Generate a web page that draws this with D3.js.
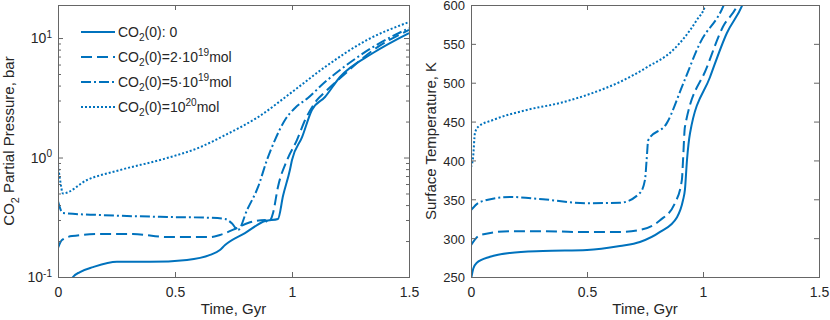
<html>
<head>
<title>CO2 pressure and surface temperature</title>
<script src="https://d3js.org/d3.v7.min.js"></script>
<style>
    body { margin: 0; background: #fff; }
    svg text { font-family: "Liberation Sans", Arial, Helvetica, sans-serif; }
</style>
</head>
<body>
<svg id="chart" width="830" height="320"></svg>
<script>
    // time in Gyr, CO2 partial pressure in bar (left panel)
    const pressNone = [[0.05,0.09],[0.064,0.1],[0.094,0.110],[0.15,0.121],[0.252,0.134],[0.393,0.134],[0.551,0.139],
        [0.65,0.153],[0.692,0.168],[0.714,0.185],[0.799,0.233],[0.885,0.294],[0.94,0.306],[0.962,0.48],[0.991,0.786],
        [1.0,0.953],[1.043,1.48],[1.085,2.50],[1.141,3.21],[1.205,4.72],[1.346,7.49],[1.5,11.0]];
    const pressLow = [[0,0.175],[0.017,0.204],[0.06,0.22],[0.18,0.229],[0.32,0.229],[0.466,0.216],[0.65,0.216],
        [0.692,0.225],[0.765,0.257],[0.812,0.283],[0.885,0.30],[0.897,0.283],[0.919,0.343],[0.94,0.567],[0.979,0.953],
        [1.021,1.40],[1.056,2.06],[1.107,3.03],[1.141,3.53],[1.205,4.6],[1.346,7.9],[1.5,11.7]];
    const pressMid = [[0,0.43],[0.021,0.343],[0.18,0.330],[0.466,0.318],[0.65,0.313],[0.714,0.306],[0.744,0.28],
        [0.769,0.247],[0.808,0.364],[0.855,0.567],[0.893,0.953],[0.927,1.40],[0.970,2.06],[1.013,2.60],[1.068,3.15],
        [1.141,4.28],[1.205,5.4],[1.346,8.4],[1.5,12.1]];
    const pressHigh = [[0,0.87],[0.009,0.648],[0.021,0.50],[0.124,0.648],[0.265,0.786],[0.45,0.97],[0.607,1.22],
        [0.714,1.54],[0.855,2.18],[1.0,3.53],[1.141,5.72],[1.32,9.62],[1.5,13.6]];

    // time in Gyr, surface temperature in K (right panel)
    const tempNone = [[0.002,250],[0.01,261],[0.024,268],[0.082,276],[0.168,281],[0.31,283.5],[0.5,284.7],[0.642,289.9],
        [0.728,295],[0.815,308],[0.888,327],[0.914,349],[0.922,362],[0.931,400.6],[0.944,435],[1.03,507],[1.103,564],
        [1.168,599],[1.2,625]];
    const tempLow = [[0,291],[0.039,304],[0.168,309],[0.31,309],[0.457,308],[0.642,308],[0.728,310.5],[0.815,323],
        [0.879,345],[0.909,375],[0.914,400.6],[0.922,443],[1.017,520],[1.086,572],[1.147,599],[1.18,625]];
    const tempMid = [[0,336],[0.039,346.5],[0.168,353],[0.31,350],[0.5,345],[0.642,345.5],[0.728,358],[0.75,375],
        [0.757,400.6],[0.764,426],[0.844,448],[0.915,499],[0.987,551],[1.088,599],[1.12,625]];
    const tempHigh = [[0,391.5],[0.009,404],[0.017,435],[0.03,443],[0.095,452],[0.241,465],[0.384,474],[0.526,487],
        [0.642,501],[0.759,520],[0.871,542],[0.974,581],[1.009,599],[1.03,625]];

    const timeTicks = [0, 0.5, 1, 1.5];
    const pressTicks = [0.1, 1, 10];
    const pressTickExps = ["-1", "0", "1"];
    const tempTicks = [250, 300, 350, 400, 450, 500, 550, 600];

    const legendLabels = [
        [["CO",""],["2","sub"],["(0): 0",""]],
        [["CO",""],["2","sub"],["(0)=2\u00b710",""],["19","sup"],["mol",""]],
        [["CO",""],["2","sub"],["(0)=5\u00b710",""],["19","sup"],["mol",""]],
        [["CO",""],["2","sub"],["(0)=10",""],["20","sup"],["mol",""]]
    ];

    const blue = "#0072bd";
    const ink = "#262626";
    const frame = "#666";
    const dashes = [null, "11,5", "10,3,2,3", "2,2"];

    const svg = d3.select("svg#chart");
    const plotTop = 5, plotBottom = 277;

    // writes text with sub/superscript pieces into a <text>
    function richText(sel, parts, size) {
        let shift = 0;
        parts.forEach(([s, kind]) => {
            const target = kind === "sub" ? 0.3 * size : kind === "sup" ? -0.42 * size : 0;
            const ts = sel.append("tspan").attr("font-size", kind ? size * 0.72 : size).text(s);
            if (target - shift !== 0) ts.attr("dy", target - shift);
            shift = target;
        });
    }

    function drawPanel(id, left, right, yScale, series, yTicks, clipId) {
        const g = svg.append("g").attr("id", id);
        const x = d3.scaleLinear().domain([0, 1.5]).range([left, right]);

        g.append("clipPath").attr("id", clipId)
            .append("rect").attr("x", left).attr("y", plotTop)
            .attr("width", right - left).attr("height", plotBottom - plotTop);

        const line = d3.line()
            .x(d => x(d[0]))
            .y(d => yScale(d[1]))
            .curve(d3.curveMonotoneX);

        g.append("g").attr("clip-path", `url(#${clipId})`)
            .selectAll("path").data(series).join("path")
            .attr("d", d => line(d))
            .attr("fill", "none")
            .attr("stroke", blue)
            .attr("stroke-width", 2)
            .attr("stroke-dasharray", (d, i) => dashes[i]);

        const styleAxis = a => {
            a.attr("font-family", null).attr("font-size", 14).attr("color", ink);
            a.select(".domain").remove();
            a.selectAll("line").attr("stroke", frame);
        };

        g.append("g").attr("transform", `translate(0,${plotBottom})`)
            .call(d3.axisBottom(x).tickValues(timeTicks).tickSizeInner(-5).tickSizeOuter(0)
                .tickPadding(10).tickFormat(d => String(d)))
            .call(styleAxis);
        g.append("g").attr("transform", `translate(0,${plotTop})`)
            .call(d3.axisTop(x).tickValues(timeTicks).tickSizeInner(-5).tickSizeOuter(0).tickFormat(""))
            .call(styleAxis);

        const yl = g.append("g").attr("transform", `translate(${left},0)`)
            .call(d3.axisLeft(yScale).tickValues(yTicks).tickSizeInner(-5).tickSizeOuter(0)
                .tickPadding(6).tickFormat(d => String(d)))
            .call(styleAxis)
            .call(a => a.attr("font-size", 13).selectAll(".tick text").attr("dy", "0.38em"));
        g.append("g").attr("transform", `translate(${right},0)`)
            .call(d3.axisRight(yScale).tickValues(yTicks).tickSizeInner(-5).tickSizeOuter(0).tickFormat(""))
            .call(styleAxis);

        g.append("rect")
            .attr("x", left + 0.5).attr("y", plotTop + 0.5)
            .attr("width", right - left).attr("height", plotBottom - plotTop)
            .attr("fill", "none").attr("stroke", frame).attr("stroke-width", 1);

        g.append("text")
            .attr("x", (left + right) / 2).attr("y", 314)
            .attr("text-anchor", "middle").attr("font-size", 15).attr("fill", ink)
            .text("Time, Gyr");

        return {g, x, yl};
    }

    // left: CO2 partial pressure (log)
    const yPress = d3.scaleLog().domain([0.1, 18.9]).range([plotBottom, plotTop]);
    const leftPanel = drawPanel("pressure", 58, 409, yPress,
        [pressNone, pressLow, pressMid, pressHigh], pressTicks, "clipL");

    leftPanel.yl.selectAll(".tick text").each(function(d, i) {
        const t = d3.select(this).text("");
        richText(t, [["10", ""], [pressTickExps[i], "sup"]], 14);
    });

    // minor ticks of the log axis
    const minor = yPress.ticks().filter(v => !pressTicks.includes(v));
    [[58, d3.axisLeft], [409, d3.axisRight]].forEach(([px, ax]) => {
        leftPanel.g.append("g").attr("transform", `translate(${px},0)`)
            .call(ax(yPress).tickValues(minor).tickSizeInner(-3).tickSizeOuter(0).tickFormat(""))
            .call(a => { a.select(".domain").remove(); a.selectAll("line").attr("stroke", frame); });
    });

    const pLabel = leftPanel.g.append("text")
        .attr("transform", `translate(14,${(plotTop + plotBottom) / 2}) rotate(-90)`)
        .attr("text-anchor", "middle").attr("fill", ink);
    richText(pLabel, [["CO", ""], ["2", "sub"], [" Partial Pressure, bar", ""]], 15);

    // legend
    const legend = leftPanel.g.append("g").attr("id", "legend");
    legendLabels.forEach((parts, i) => {
        const ly = 32 + i * 25;
        legend.append("line")
            .attr("x1", 81).attr("x2", 115).attr("y1", ly).attr("y2", ly)
            .attr("stroke", blue).attr("stroke-width", 2)
            .attr("stroke-dasharray", dashes[i]);
        const t = legend.append("text").attr("x", 118).attr("y", ly + 5).attr("fill", ink);
        richText(t, parts, 14);
    });

    // right: surface temperature
    const yTemp = d3.scaleLinear().domain([250, 600]).range([plotBottom, plotTop]);
    const rightPanel = drawPanel("temperature", 471, 819, yTemp,
        [tempNone, tempLow, tempMid, tempHigh], tempTicks, "clipR");

    rightPanel.g.append("text")
        .attr("transform", `translate(436,${(plotTop + plotBottom) / 2}) rotate(-90)`)
        .attr("text-anchor", "middle").attr("font-size", 15).attr("fill", ink)
        .text("Surface Temperature, K");
</script>
</body>
</html>
